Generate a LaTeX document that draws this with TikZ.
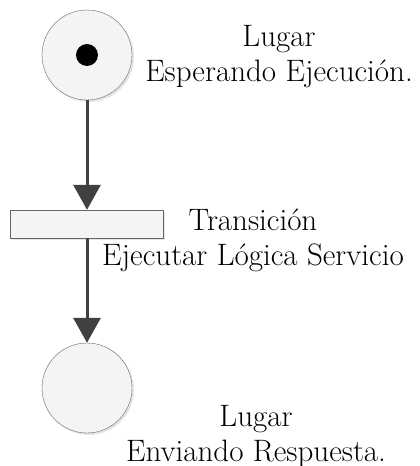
\documentclass[tikz,border=0pt]{standalone}
\usepackage{fontspec}
\usetikzlibrary{arrows.meta, shadows}
\definecolor{arcgray}{HTML}{404040}
\definecolor{placefill}{HTML}{F4F4F4}
\tikzset{
  place/.style = {circle, draw=gray!80!black, thin, fill=placefill, minimum size=90pt,
    inner sep=0pt, drop shadow={shadow xshift=2pt, shadow yshift=-2pt, fill=black!20}},
  transbox/.style = {rectangle, draw=gray!80!black, thin, fill=placefill, minimum width=153pt,
    minimum height=28pt, inner sep=0pt, drop shadow={shadow xshift=2pt, shadow yshift=-2pt, fill=black!20}},
  token/.style = {circle, fill=black, minimum size=22pt, inner sep=0pt},
  arc/.style = {draw=arcgray, line width=3pt, -{Triangle[width=27pt, length=25pt]}},
  lbl/.style = {align=center, font=\fontsize{31}{35}\selectfont, inner sep=0pt}
}
\begin{document}
\begin{tikzpicture}[x=1pt, y=-1pt]
\useasboundingbox (0,0) rectangle (420,466);
\node[place] (P1) at (87,55) {};
\node[token] (tok) at (P1.center) {};
\node[transbox] (T1) at (86.5,224) {};
\node[place] (P2) at (87,388) {};
\draw[arc] (P1.south) -- (P1.south |- T1.north);
\draw[arc] (P1.south |- T1.south) -- (P2.north);
\node[lbl] (L1) at (279,57) {Lugar\\Esperando Ejecución.};
\node[lbl] (L2) at (253,240) {Transición\\Ejecutar Lógica Servicio};
\node[lbl] (L3) at (256,436) {Lugar\\Enviando Respuesta.};
\end{tikzpicture}
\end{document}
